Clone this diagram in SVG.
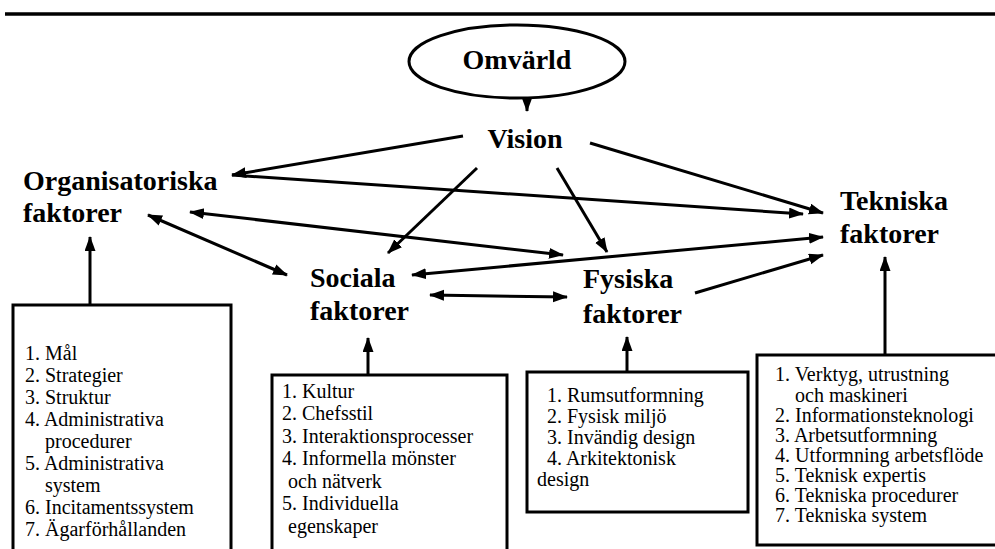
<svg xmlns="http://www.w3.org/2000/svg" width="995" height="549" viewBox="0 0 995 549">
<defs>
<style>
.lbl{font-family:"Liberation Serif","Times New Roman",serif;font-weight:bold;font-size:28px;fill:#000}
.lst{font-family:"Liberation Serif","Times New Roman",serif;font-size:20px;fill:#000}
.box{fill:#fff;stroke:#000;stroke-width:3}
.con line{stroke:#000;stroke-width:3}
</style>
<marker id="ah" markerUnits="userSpaceOnUse" markerWidth="16" markerHeight="12" refX="14" refY="5.5" orient="auto-start-reverse">
<path d="M0,0 L15,5.5 L0,11 z" fill="#000"/>
</marker>
</defs>
<rect width="995" height="549" fill="#fff"/>
<line x1="5" y1="14" x2="995" y2="14" stroke="#000" stroke-width="3.5"/>

<g id="omvarld">
<ellipse cx="517" cy="61.5" rx="108" ry="36.5" fill="#fff" stroke="#000" stroke-width="3"/>
<text class="lbl" x="517" y="69" text-anchor="middle">Omvärld</text>
</g>
<g id="vision"><text class="lbl" x="525" y="148" text-anchor="middle">Vision</text></g>
<g id="organisatoriska"><text class="lbl" x="23" y="190">Organisatoriska</text><text class="lbl" x="23" y="222">faktorer</text></g>
<g id="sociala"><text class="lbl" x="310" y="287">Sociala</text><text class="lbl" x="310" y="320">faktorer</text></g>
<g id="fysiska"><text class="lbl" x="583" y="288">Fysiska</text><text class="lbl" x="583" y="323">faktorer</text></g>
<g id="tekniska"><text class="lbl" x="840" y="210">Tekniska</text><text class="lbl" x="840" y="243">faktorer</text></g>

<g id="box-org">
<rect class="box" x="13" y="305" width="218" height="260"/>
<text class="lst" x="25" y="360">1. Mål</text>
<text class="lst" x="25" y="382">2. Strategier</text>
<text class="lst" x="25" y="404">3. Struktur</text>
<text class="lst" x="25" y="426">4. Administrativa</text>
<text class="lst" x="45" y="448">procedurer</text>
<text class="lst" x="25" y="470">5. Administrativa</text>
<text class="lst" x="45" y="492">system</text>
<text class="lst" x="25" y="514">6. Incitamentssystem</text>
<text class="lst" x="25" y="536">7. Ägarförhållanden</text>
</g>
<g id="box-soc">
<rect class="box" x="272" y="375" width="235" height="190"/>
<text class="lst" x="282" y="398">1. Kultur</text>
<text class="lst" x="282" y="420">2. Chefsstil</text>
<text class="lst" x="282" y="443">3. Interaktionsprocesser</text>
<text class="lst" x="282" y="465">4. Informella mönster</text>
<text class="lst" x="288" y="488">och nätverk</text>
<text class="lst" x="282" y="510">5. Individuella</text>
<text class="lst" x="288" y="533">egenskaper</text>
</g>
<g id="box-fys">
<rect class="box" x="527" y="372" width="221" height="140"/>
<text class="lst" x="547" y="402">1. Rumsutformning</text>
<text class="lst" x="547" y="423">2. Fysisk miljö</text>
<text class="lst" x="547" y="444">3. Invändig design</text>
<text class="lst" x="547" y="465">4. Arkitektonisk</text>
<text class="lst" x="537" y="486">design</text>
</g>
<g id="box-tek">
<rect class="box" x="757" y="355" width="245" height="190"/>
<text class="lst" x="775" y="381">1. Verktyg, utrustning</text>
<text class="lst" x="795" y="402">och maskineri</text>
<text class="lst" x="775" y="422">2. Informationsteknologi</text>
<text class="lst" x="775" y="442">3. Arbetsutformning</text>
<text class="lst" x="775" y="462">4. Utformning arbetsflöde</text>
<text class="lst" x="775" y="482">5. Teknisk expertis</text>
<text class="lst" x="775" y="502">6. Tekniska procedurer</text>
<text class="lst" x="775" y="522">7. Tekniska system</text>
</g>

<g id="connectors" class="con">
<line x1="527" y1="97" x2="527" y2="111" marker-end="url(#ah)"/>
<line x1="463" y1="136" x2="232" y2="175" marker-end="url(#ah)"/>
<line x1="232" y1="175" x2="803" y2="214" marker-end="url(#ah)"/>
<line x1="590" y1="143" x2="823" y2="213" marker-end="url(#ah)"/>
<line x1="148" y1="215" x2="287" y2="275" marker-start="url(#ah)" marker-end="url(#ah)"/>
<line x1="190" y1="212" x2="563" y2="255" marker-start="url(#ah)" marker-end="url(#ah)"/>
<line x1="477" y1="168" x2="388" y2="253" marker-end="url(#ah)"/>
<line x1="557" y1="168" x2="607" y2="252" marker-end="url(#ah)"/>
<line x1="412" y1="275" x2="823" y2="237" marker-start="url(#ah)" marker-end="url(#ah)"/>
<line x1="430" y1="295" x2="567" y2="297" marker-start="url(#ah)" marker-end="url(#ah)"/>
<line x1="695" y1="293" x2="823" y2="255" marker-end="url(#ah)"/>
<line x1="90" y1="305" x2="90" y2="237" marker-end="url(#ah)"/>
<line x1="368" y1="375" x2="368" y2="338" marker-end="url(#ah)"/>
<line x1="627" y1="372" x2="627" y2="337" marker-end="url(#ah)"/>
<line x1="885" y1="355" x2="885" y2="257" marker-end="url(#ah)"/>
</g>
</svg>
